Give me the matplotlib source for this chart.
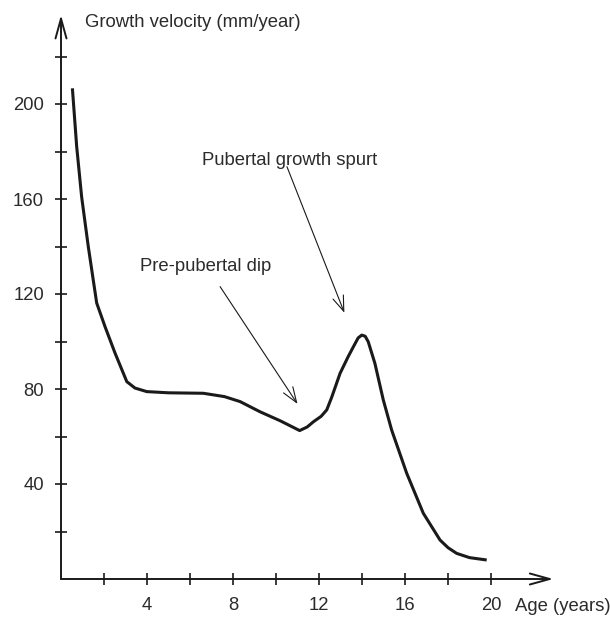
import matplotlib
matplotlib.use("Agg")
import matplotlib.pyplot as plt

# growth velocity curve
age = [0.53, 0.73, 0.96, 1.27, 1.50, 1.66, 2.05, 2.51, 3.06, 3.44, 3.99, 5.0,
       6.62, 7.6, 8.33, 9.26, 10.2, 11.1, 11.45, 11.74, 12.1, 12.36, 12.59, 12.98,
       13.35, 13.60, 13.82, 13.99, 14.15, 14.29, 14.60, 14.99, 15.38, 16.08,
       16.85, 17.63, 18.0, 18.40, 19.0, 19.80]
velocity = [206.6, 182.0, 160.9, 139.9, 125.9, 116.2, 106.2, 95.2, 83.1, 80.4, 78.9, 78.4,
            78.2, 76.8, 74.7, 70.4, 66.6, 62.5, 64.0, 66.2, 68.5, 71.2, 76.5, 86.6,
            93.5, 97.8, 101.5, 102.7, 102.2, 99.9, 90.8, 75.4, 62.7, 44.5,
            27.7, 16.4, 13.2, 10.8, 9.0, 8.0]

x_ticks = list(range(2, 21, 2))
x_labels = [str(v) if v % 4 == 0 else "" for v in x_ticks]
y_ticks = list(range(20, 221, 20))
y_labels = [str(v) if v % 40 == 0 else "" for v in y_ticks]

plt.rcParams['font.family'] = ['Liberation Sans', 'DejaVu Sans']
txt = '#2b2b2b'
fs = 13.3

fig = plt.figure(figsize=(6.10, 6.18), dpi=100)
ax = fig.add_axes([61 / 610, 39 / 618, 24 * 21.5 / 610, 240 * 2.375 / 618])
ax.set_xlim(0, 24)
ax.set_ylim(0, 240)

ax.plot(age, velocity, color='#1a1a1a', lw=2.2, solid_capstyle='butt',
        solid_joinstyle='round')

for s in ax.spines.values():
    s.set_visible(False)

# axes with open arrow heads
axis_arrow = dict(arrowstyle='->,head_length=0.65,head_width=0.18', lw=1.4,
                  color='#1a1a1a', mutation_scale=22, shrinkA=0, shrinkB=0)
ax.annotate('', xy=(22.9, 0), xytext=(0, 0), arrowprops=axis_arrow)
ax.annotate('', xy=(0, 237.5), xytext=(0, 0), arrowprops=axis_arrow)

ax.set_xticks(x_ticks)
ax.set_xticklabels(x_labels)
ax.set_yticks(y_ticks)
ax.set_yticklabels(y_labels)
ax.tick_params(direction='inout', length=8.6, width=1.2, color='#1a1a1a',
               labelsize=fs, labelcolor=txt)
ax.tick_params(axis='x', pad=9)
ax.tick_params(axis='y', pad=8)

ax.text(1.12, 234.5, "Growth velocity (mm/year)", fontsize=fs, color=txt,
        va='center', ha='left')
ax.text(21.1, -11.6, "Age (years)", fontsize=fs, color=txt,
        va='center', ha='left', clip_on=False)

ax.text(6.56, 176.4, "Pubertal growth spurt", fontsize=fs, color=txt,
        va='center', ha='left')
ax.text(3.67, 131.4, "Pre-pubertal dip", fontsize=fs, color=txt,
        va='center', ha='left')

label_arrow = dict(arrowstyle='->,head_length=0.55,head_width=0.2', lw=0.8,
                   color='#1a1a1a', mutation_scale=20, shrinkA=0, shrinkB=0)
ax.annotate('', xy=(13.18, 112.1), xytext=(10.51, 173.6), arrowprops=label_arrow)
ax.annotate('', xy=(11.0, 73.7), xytext=(7.40, 123.1), arrowprops=label_arrow)

fig.savefig("out.png", dpi=100)
